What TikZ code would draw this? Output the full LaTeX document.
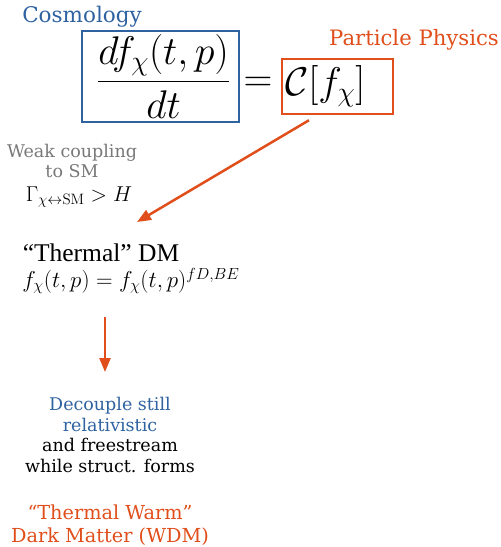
\RequirePackage{fix-cm}
\documentclass[tikz,border=0pt]{standalone}
\usepackage{amsmath}
\usepackage[no-math]{fontspec}
\setmainfont{DejaVu Serif}
\newfontfamily\timesfont{Liberation Serif}
\usetikzlibrary{arrows.meta}
\definecolor{cosmoblue}{RGB}{46,98,160}
\definecolor{partorange}{RGB}{224,78,28}
\definecolor{weakgray}{RGB}{120,120,120}
\newcommand{\fs}[1]{\fontsize{#1}{#1}\selectfont}
\tikzset{
  flow/.style={partorange, line width=2.5pt, -{Triangle[length=14pt,width=11pt]}},
}

\begin{document}
\begin{tikzpicture}[x=1pt, y=-1pt]
    \useasboundingbox (0,0) rectangle (501,547);

    % Boltzmann equation
    \node[cosmoblue, font=\fs{21.5}] (cosmo) at (82,17) {Cosmology};
    \node[draw=cosmoblue, line width=2.5pt, minimum width=157, minimum height=91, inner sep=0, font=\fs{40}] (lhs) at (160.5,76.5) {$\displaystyle\hspace{6pt}\frac{df_\chi(t,p)}{dt}$};
    \node[font=\fs{40}] (eq) at (258,84) {$=$};
    \node[draw=partorange, line width=2.5pt, text width=105, inner xsep=3, align=left, minimum height=55, font=\fs{40}] (coll) at (337.5,86.5) {$\mathcal{C}[f_\chi]$};
    \node[partorange, font=\fs{21.2}] (part) at (414,40) {Particle Physics};

    % Weak coupling
    \node[weakgray, align=center, font=\fontsize{17.5}{19.5}\selectfont] (weak) at (72,161) {Weak coupling\\to SM};
    \node[font=\fs{21.5}] (rate) at (79,197) {$\Gamma_{\chi\leftrightarrow\mathrm{SM}} > H$};

    % Thermal DM
    \node[font=\timesfont\fs{25.5}] (therm) at (101,253) {“Thermal” DM};
    \node[font=\fs{23}] (equil) at (131,281) {$f_\chi(t,p) = f_\chi(t,p)^{fD,BE}$};

    % Warm DM
    \node[align=center, font=\fontsize{17.5}{20.5}\selectfont] (decouple) at (110,435) {\textcolor{cosmoblue}{Decouple still}\\\textcolor{cosmoblue}{relativistic}\\and freestream\\while struct. forms};
    \node[partorange, align=center, font=\fontsize{19.3}{23}\selectfont] (wdm) at (110,525) {“Thermal Warm”\\Dark Matter (WDM)};

    % Arrows
    \coordinate (tip1) at (137,222);
    \coordinate (tail2) at (105,317);
    \coordinate (tip2) at (105,372);
    \draw[flow] ([xshift=-28.5pt,yshift=-5pt]coll.south) -- (tip1);
    \draw[flow] (tail2) -- (tip2);
\end{tikzpicture}
\end{document}
